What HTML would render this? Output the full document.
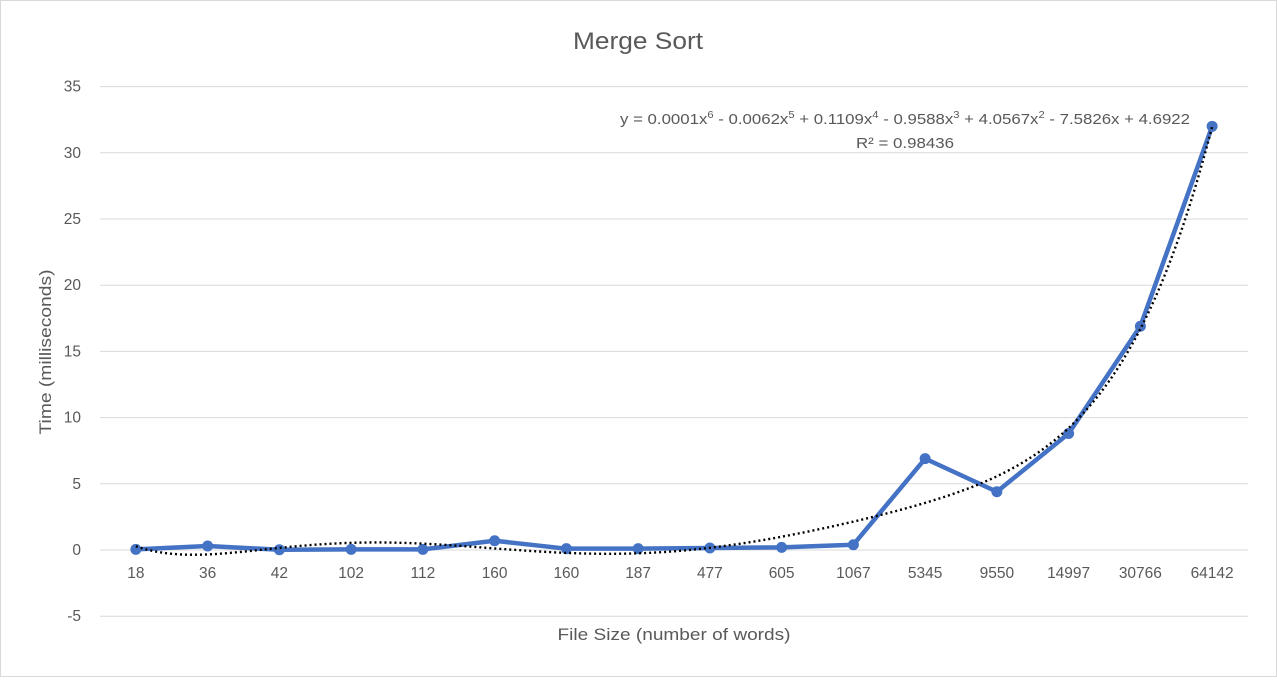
<!DOCTYPE html>
<html><head><meta charset="utf-8">
<style>
body{margin:0;background:#fff;}
svg text{font-family:"Liberation Sans",sans-serif;fill:#595959;}
</style></head>
<body>
<svg id="chart" width="1277" height="677" viewBox="0 0 1277 677" xmlns="http://www.w3.org/2000/svg">
<rect x="0.5" y="0.5" width="1276" height="676" fill="#fff" stroke="#d9d9d9"/>
<text x="638" y="49" font-size="24" text-anchor="middle" textLength="130" lengthAdjust="spacingAndGlyphs">Merge Sort</text>
<text transform="translate(51,352) rotate(-90)" font-size="16.5" text-anchor="middle" textLength="165" lengthAdjust="spacingAndGlyphs">Time (milliseconds)</text>
<text x="674" y="640" font-size="16.5" text-anchor="middle" textLength="233" lengthAdjust="spacingAndGlyphs">File Size (number of words)</text>
<g id="grid"></g><g id="ylabels"></g><g id="xlabels"></g>
<g id="series"></g>
<text x="905" y="124" font-size="15" text-anchor="middle" textLength="570" lengthAdjust="spacingAndGlyphs">y = 0.0001x<tspan font-size="10" dy="-6">6</tspan><tspan dy="6"> - 0.0062x</tspan><tspan font-size="10" dy="-6">5</tspan><tspan dy="6"> + 0.1109x</tspan><tspan font-size="10" dy="-6">4</tspan><tspan dy="6"> - 0.9588x</tspan><tspan font-size="10" dy="-6">3</tspan><tspan dy="6"> + 4.0567x</tspan><tspan font-size="10" dy="-6">2</tspan><tspan dy="6"> - 7.5826x + 4.6922</tspan></text>
<text x="905" y="148" font-size="15" text-anchor="middle" textLength="98" lengthAdjust="spacingAndGlyphs">R² = 0.98436</text>
</svg>
<script>
const categories=["18","36","42","102","112","160","160","187","477","605","1067","5345","9550","14997","30766","64142"];
const times=[0.05,0.3,0.02,0.05,0.05,0.7,0.1,0.1,0.15,0.2,0.4,6.9,4.4,8.8,16.9,32];
const yTicks=[-5,0,5,10,15,20,25,30,35];
const NS="http://www.w3.org/2000/svg";
const L=100,R=1248,Y0=550,PX=66.2/5;
const step=(R-L)/categories.length;
const xs=i=>L+step*(i+0.5);
const ys=v=>Y0-v*PX;
function mk(t,a,p){const e=document.createElementNS(NS,t);for(const k in a)e.setAttribute(k,a[k]);p.appendChild(e);return e;}
const grid=document.getElementById('grid'),yl=document.getElementById('ylabels'),xl=document.getElementById('xlabels'),ser=document.getElementById('series');
yTicks.forEach(v=>{
 const ln=mk('line',{x1:L,x2:R,y1:ys(v),y2:ys(v),stroke:'#d9d9d9','stroke-width':1},grid);
 
 
 const t=mk('text',{x:81,y:ys(v)+5,'font-size':15.5,'text-anchor':'end'},yl);t.textContent=v;
 
 
});
categories.forEach((c,i)=>{
 const t=mk('text',{x:xs(i),y:ys(0)+28,'font-size':15.5,'text-anchor':'middle'},xl);t.textContent=c;
 
 
});
const n=times.length,deg=6;
const tx=i=>((i+1)-(n+1)/2)/((n-1)/2);
const A=[];for(let r=0;r<=deg;r++){A.push(new Array(deg+2).fill(0));}
for(let i=0;i<n;i++){const t=tx(i);for(let r=0;r<=deg;r++){for(let c=0;c<=deg;c++)A[r][c]+=Math.pow(t,r+c);A[r][deg+1]+=Math.pow(t,r)*times[i];}}
for(let k=0;k<=deg;k++){let p=k;for(let r=k+1;r<=deg;r++)if(Math.abs(A[r][k])>Math.abs(A[p][k]))p=r;[A[k],A[p]]=[A[p],A[k]];
 for(let r=0;r<=deg;r++){if(r===k)continue;const f=A[r][k]/A[k][k];for(let c=k;c<=deg+1;c++)A[r][c]-=f*A[k][c];}}
const coef=A.map((row,k)=>row[deg+1]/row[k]);
const poly=t=>coef.reduce((s,c,k)=>s+c*Math.pow(t,k),0);
let d='';for(let s=0;s<=300;s++){const fi=s/300*(n-1);const t=((fi+1)-(n+1)/2)/((n-1)/2);d+=(s?'L':'M')+(L+step*(fi+0.5)).toFixed(2)+','+ys(poly(t)).toFixed(2);}
const line=mk('path',{d:times.map((v,i)=>(i?'L':'M')+xs(i)+','+ys(v)).join(''),fill:'none',stroke:'#4472C4','stroke-width':4.5,'stroke-linejoin':'round'},ser);


times.forEach((v,i)=>{const c=mk('circle',{cx:xs(i),cy:ys(v),r:5.5,fill:'#4472C4'},ser);
 
 });
const tr=mk('path',{d:d,fill:'none',stroke:'#000','stroke-width':2.4,'stroke-dasharray':'2,3'},ser);


</script>
</body></html>
